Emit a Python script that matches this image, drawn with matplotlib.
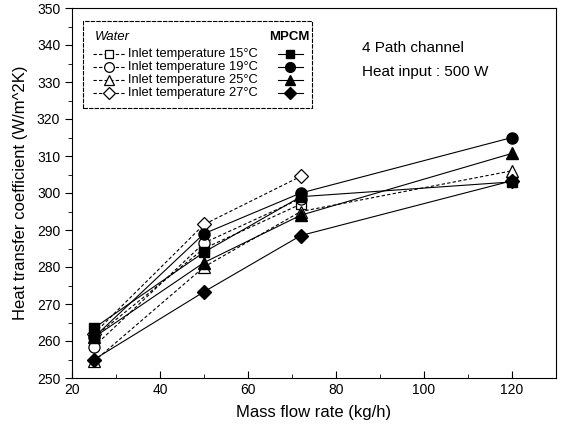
import matplotlib
matplotlib.use('Agg')
import matplotlib.pyplot as plt
from matplotlib.patches import Rectangle
from matplotlib.ticker import MultipleLocator

plt.rcParams['font.family'] = ['Liberation Sans', 'DejaVu Sans']

# mass flow rate (kg/h)
flow = [25, 50, 72, 120]
flow3 = [25, 50, 72]

# water (open markers, dashed)
w15 = [261, 285, 297]
w19 = [258.5, 286.5, 298.5]
w25 = [254.5, 280, 295, 306]
w27 = [262, 291.5, 304.5]

# MPCM (filled markers, solid)
m15 = [263.5, 284, 299, 303]
m19 = [261, 289, 300, 315]
m25 = [261, 281.2, 294, 310.7]
m27 = [255, 273.3, 288.5, 303.3]

temps = ['15', '19', '25', '27']
markers = ['s', 'o', '^', 'D']
msizes = [7, 8, 8, 7]

fig = plt.figure(figsize=(5.71, 4.41), dpi=100)
ax = fig.add_axes([72/571, 1-378/441, 484/571, 370/441])

water = [(flow3, w15), (flow3, w19), (flow, w25), (flow3, w27)]
mpcm = [m15, m19, m25, m27]
for i in range(4):
	xs, ys = water[i]
	ax.plot(xs, ys, ls=(0, (3, 2)), lw=0.8, color='black', marker=markers[i],
			ms=msizes[i], mfc='white', mec='black', mew=0.9)
for i in range(4):
	ax.plot(flow, mpcm[i], ls='-', lw=0.8, color='black', marker=markers[i],
			ms=msizes[i], mfc='black', mec='black')

ax.set_xlim(20, 130)
ax.set_ylim(250, 350)
ax.xaxis.set_major_locator(MultipleLocator(20))
ax.xaxis.set_minor_locator(MultipleLocator(10))
ax.yaxis.set_major_locator(MultipleLocator(10))
ax.yaxis.set_minor_locator(MultipleLocator(5))
ax.tick_params(axis='x', which='both', direction='in', labelsize=10)
ax.tick_params(axis='y', which='both', direction='out', labelsize=10)
ax.tick_params(which='major', length=5)
ax.tick_params(which='minor', length=3)
ax.set_xlabel('Mass flow rate (kg/h)', fontsize=12, labelpad=6)
ax.set_ylabel('Heat transfer coefficient (W/m^2K)', fontsize=12, labelpad=6)

# legend box
ax.add_patch(Rectangle((0.023, 0.730), 0.473, 0.236, transform=ax.transAxes,
					   fill=False, lw=0.8, ls=(0, (4, 1)), ec='black'))
ax.text(0.047, 0.922, 'Water', transform=ax.transAxes, fontsize=9.5,
		style='italic', va='center')
ax.text(0.450, 0.922, 'MPCM', transform=ax.transAxes, fontsize=9.5,
		va='center', ha='center', weight='bold')
rows = [0.876, 0.841, 0.805, 0.770]
for i in range(4):
	y = rows[i]
	ax.plot([0.043, 0.110], [y, y], transform=ax.transAxes, ls=(0, (3, 2)),
			lw=0.8, color='black')
	ax.plot([0.076], [y], transform=ax.transAxes, marker=markers[i],
			ms=msizes[i] - 1, mfc='white', mec='black', mew=0.9, ls='none')
	ax.text(0.116, y, 'Inlet temperature ' + temps[i] + '°C',
			transform=ax.transAxes, fontsize=9.3, va='center')
	ax.plot([0.425, 0.478], [y, y], transform=ax.transAxes, ls='-', lw=0.8,
			color='black')
	ax.plot([0.450], [y], transform=ax.transAxes, marker=markers[i],
			ms=msizes[i] - 1, mfc='black', mec='black', ls='none')

ax.text(0.599, 0.892, '4 Path channel', transform=ax.transAxes, fontsize=11,
		va='center')
ax.text(0.599, 0.826, 'Heat input : 500 W', transform=ax.transAxes,
		fontsize=11, va='center')

plt.savefig('out.png', dpi=100)
